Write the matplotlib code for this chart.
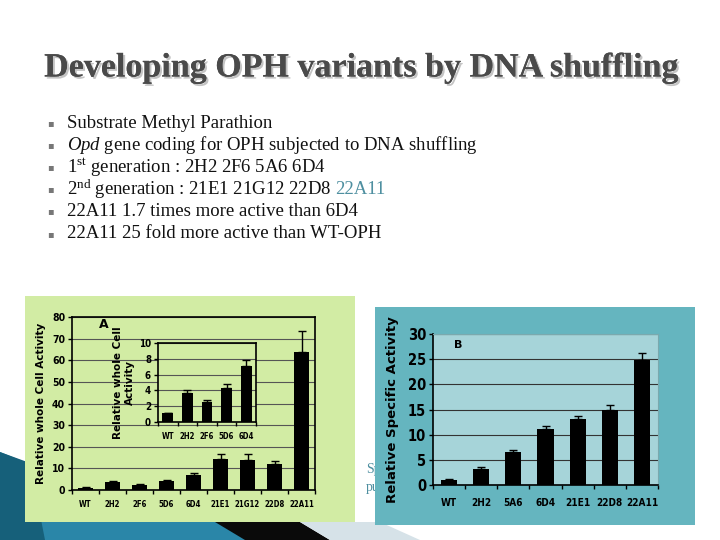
import numpy as np
import matplotlib.pyplot as plt
import matplotlib.patheffects as pe
from matplotlib.patches import Polygon

# donnees panneau A (activite cellule entiere)
variants_a = ['WT', '2H2', '2F6', '5D6', '6D4', '21E1', '21G12', '22D8', '22A11']
activite_a = [1.0, 3.7, 2.5, 4.3, 7.1, 14.5, 13.8, 11.8, 64.0]
erreur_a = [0.2, 0.4, 0.3, 0.5, 0.8, 2.0, 3.0, 1.5, 9.5]

# encart panneau A (premiere generation)
variants_enc = ['WT', '2H2', '2F6', '5D6', '6D4']
activite_enc = [1.1, 3.7, 2.5, 4.3, 7.1]
erreur_enc = [0.1, 0.4, 0.3, 0.5, 0.8]

# donnees panneau B (activite specifique)
variants_b = ['WT', '2H2', '5A6', '6D4', '21E1', '22D8', '22A11']
activite_b = [1.0, 3.2, 6.6, 11.2, 13.2, 15.0, 24.8]
erreur_b = [0.1, 0.3, 0.4, 0.6, 0.6, 0.8, 1.4]

titre = "Developing OPH variants by DNA shuffling"

W, H = 720, 540

def fx(x):
    return x / W

def fy(y):
    return 1 - y / H

def rect(x0, y0, x1, y1):
    return [fx(x0), fy(y1), (x1 - x0) / W, (y1 - y0) / H]

plt.rcParams['mathtext.fontset'] = 'custom'
plt.rcParams['mathtext.rm'] = 'Liberation Serif'
plt.rcParams['mathtext.it'] = 'Liberation Serif:italic'

fig = plt.figure(figsize=(7.2, 5.4), dpi=100)
fig.patch.set_facecolor('white')

# decor en bas a gauche
deco = fig.add_axes([0, 0, 1, 1], zorder=0)
deco.set_xlim(0, W)
deco.set_ylim(H, 0)
deco.axis('off')
deco.add_patch(Polygon([(0, 452), (40, 468), (60, 522), (230, 522), (250, 540), (0, 540)],
                       closed=True, color='#2a86a8', lw=0))
deco.add_patch(Polygon([(0, 452), (30, 463), (45, 540), (0, 540)], closed=True, color='#16607a', lw=0))
deco.add_patch(Polygon([(215, 522), (300, 522), (330, 540), (245, 540)], closed=True, color='#0a0a0a', lw=0))
deco.add_patch(Polygon([(300, 522), (380, 522), (420, 540), (330, 540)], closed=True, color='#d6e2e8', lw=0))
deco.text(366, 470, 'Sp', fontsize=10, family='Liberation Serif', color='#4e8fa0', va='center')
deco.text(366, 488, 'pu', fontsize=10, family='Liberation Serif', color='#4e8fa0', va='center')

# titre avec ombre
fig.text(fx(361), fy(68), titre, fontsize=24.5, family='Liberation Serif', weight='bold',
         color='#4a4a4a', ha='center', va='center', zorder=4,
         path_effects=[pe.withSimplePatchShadow(offset=(1.5, -1.5), shadow_rgbFace='#c4c4c4', alpha=1),
                       pe.Normal()])

lignes = [
    r'Substrate Methyl Parathion',
    r'$\it{Opd}$ gene coding for OPH subjected to DNA shuffling',
    r'1$^{\rm st}$ generation : 2H2 2F6 5A6 6D4',
    r'2$^{\rm nd}$ generation : 21E1 21G12 22D8',
    r'22A11 1.7 times more active than 6D4',
    r'22A11 25 fold more active than WT-OPH',
]
ys = [123, 145, 167, 189, 211, 234]
for y, txt in zip(ys, lignes):
    fig.text(fx(47), fy(y), '\u25aa', fontsize=7, color='#777777', va='center')
    t = fig.text(fx(67), fy(y), txt, fontsize=13.5, family='Liberation Serif', color='#111111', va='center')
    if txt.startswith('2$^'):
        fig.canvas.draw()
        bb = t.get_window_extent()
        fig.text((bb.x1 + 4) / W, fy(y), '22A11', fontsize=13.5, family='Liberation Serif',
                 color='#4e8fa0', va='center')

# panneau A
vert = '#d2eca4'
boite_a = fig.add_axes(rect(25, 296, 355, 522), zorder=1)
boite_a.set_facecolor(vert)
boite_a.set_xticks([])
boite_a.set_yticks([])
for s in boite_a.spines.values():
    s.set_visible(False)

def style_barres(a, noms, vals, errs, larg, ymax, pas, taille_x, taille_y, pad_x):
    xx = np.arange(len(noms))
    a.bar(xx, vals, larg, color='black', zorder=3)
    a.errorbar(xx, vals, yerr=[np.zeros(len(xx)), errs], fmt='none', ecolor='black',
               elinewidth=1, capsize=3, capthick=1, zorder=3)
    a.set_xlim(-0.5, len(xx) - 0.5)
    a.set_ylim(0, ymax)
    a.set_yticks(range(0, ymax + 1, pas))
    a.set_xticks(xx)
    a.set_xticklabels(noms)
    a.set_xticks(np.arange(-0.5, len(xx), 1), minor=True)
    a.tick_params(axis='x', which='major', length=0, pad=pad_x)
    a.tick_params(axis='x', which='minor', length=3, width=1)
    a.tick_params(axis='y', length=3, width=1, pad=2)
    for lab in a.get_xticklabels():
        lab.set_fontsize(taille_x)
        lab.set_fontweight('bold')
        lab.set_fontstretch('condensed')
    for lab in a.get_yticklabels():
        lab.set_fontsize(taille_y)
        lab.set_fontweight('bold')
        lab.set_fontstretch('condensed')
    a.set_axisbelow(True)

ax = fig.add_axes(rect(72, 317, 315, 490), zorder=2)
ax.set_facecolor(vert)
style_barres(ax, variants_a, activite_a, erreur_a, 0.55, 80, 10, 5.6, 7.5, 7)
ax.yaxis.grid(True, color='#555555', lw=0.8)
for s in ax.spines.values():
    s.set_linewidth(1.2)
ax.set_ylabel('Relative whole Cell Activity', fontsize=7.5, fontweight='bold', labelpad=4)
ax.text(0.5, 75, 'A', fontsize=9, fontweight='bold')

enc = fig.add_axes(rect(158, 343, 256, 422), zorder=3)
enc.set_facecolor(vert)
style_barres(enc, variants_enc, activite_enc, erreur_enc, 0.55, 10, 2, 5.6, 7, 7)
enc.yaxis.grid(True, color='#555555', lw=0.8)
for s in enc.spines.values():
    s.set_linewidth(1.2)
enc.set_ylabel('Relative whole Cell\nActivity', fontsize=7.5, fontweight='bold', labelpad=3)

# panneau B
boite_b = fig.add_axes(rect(375, 307, 695, 525), zorder=1)
boite_b.set_facecolor('#65b5bf')
boite_b.set_xticks([])
boite_b.set_yticks([])
for s in boite_b.spines.values():
    s.set_visible(False)

bx = fig.add_axes(rect(433, 334, 658, 485), zorder=2)
bx.set_facecolor('#a6d4d9')
style_barres(bx, variants_b, activite_b, erreur_b, 0.5, 30, 5, 7.2, 10.5, 9)
bx.yaxis.grid(True, color='#333333', lw=0.8)
bx.spines['top'].set_color('#7aa9ae')
bx.spines['right'].set_color('#7aa9ae')
bx.spines['left'].set_linewidth(1.2)
bx.spines['bottom'].set_linewidth(1.2)
bx.set_ylabel('Relative Specific Activity', fontsize=9.5, fontweight='bold', labelpad=6)
bx.text(0.15, 27.3, 'B', fontsize=8, fontweight='bold')

fig.savefig('out.png', dpi=100)
